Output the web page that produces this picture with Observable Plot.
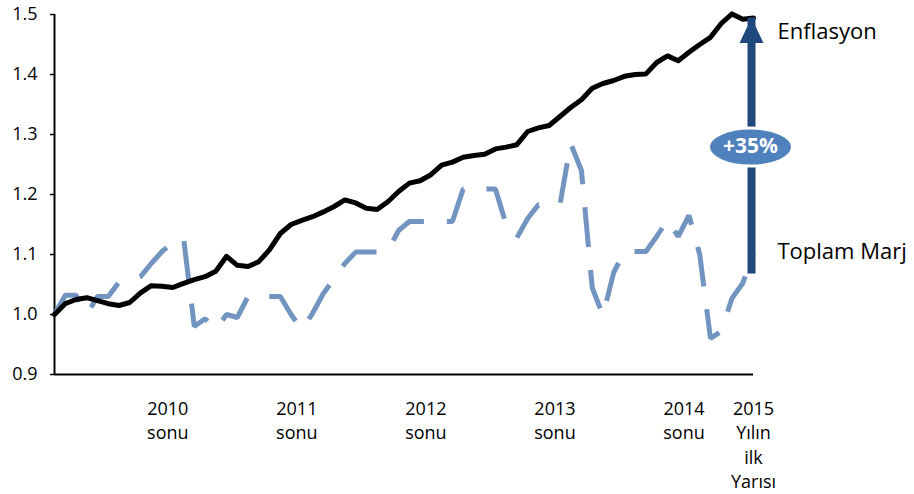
<!DOCTYPE html>
<html>
<head>
<meta charset="utf-8">
<script src="https://cdn.jsdelivr.net/npm/d3@7"></script>
<script src="https://cdn.jsdelivr.net/npm/@observablehq/plot@0.6"></script>
<style>
  html, body { margin: 0; padding: 0; background: #fff; }
  #chart { width: 914px; height: 494px; }
</style>
</head>
<body>
<div id="chart"></div>
<script>
// Monthly index values (Jan 2010 = 0 ... Jun 2015 = 65), 2010 start = 1.0
const inflation = [
  1.000, 1.018, 1.025, 1.028, 1.023, 1.018, 1.015, 1.020, 1.036, 1.048,
  1.047, 1.045, 1.052, 1.058, 1.063, 1.072, 1.097, 1.082, 1.080, 1.088,
  1.108, 1.135, 1.150, 1.157, 1.163, 1.171, 1.180, 1.191, 1.186, 1.177,
  1.175, 1.188, 1.205, 1.219, 1.223, 1.233, 1.249, 1.254, 1.262, 1.265,
  1.267, 1.276, 1.279, 1.283, 1.305, 1.311, 1.315, 1.330, 1.345, 1.358,
  1.377, 1.385, 1.390, 1.397, 1.400, 1.401, 1.420, 1.431, 1.423, 1.437,
  1.450, 1.462, 1.485, 1.501, 1.492, 1.494
];
const totalMargin = [
  1.000, 1.032, 1.032, 1.000, 1.030, 1.030, 1.054, 1.057, 1.063, 1.085,
  1.105, 1.120, 1.128, 0.980, 0.993, 0.975, 1.000, 0.995, 1.030, 1.030,
  1.030, 1.030, 1.000, 0.975, 1.002, 1.035, 1.060, 1.085, 1.104, 1.104,
  1.104, 1.106, 1.140, 1.155, 1.155, 1.155, 1.155, 1.155, 1.209, 1.209,
  1.209, 1.209, 1.150, 1.128, 1.160, 1.183, 1.183, 1.183, 1.285, 1.240,
  1.045, 0.998, 1.070, 1.105, 1.105, 1.105, 1.130, 1.158, 1.130, 1.165,
  1.100, 0.960, 0.972, 1.027, 1.052, 1.104
];
const seriesNames = ["Enflasyon", "Toplam Marj"];
const xTickIndex = [11, 23, 35, 47, 59];
const xTickLabels = ["2010\nsonu", "2011\nsonu", "2012\nsonu", "2013\nsonu", "2014\nsonu"];
const lastTickIndex = [65];
const lastTickLabel = ["2015\nYılın\nilk\nYarısı"];
const yTicks = [0.9, 1.0, 1.1, 1.2, 1.3, 1.4, 1.5];
const changeLabel = ["+35%"];

const infData = inflation.map((v, i) => ({i, v}));
const marData = totalMargin.map((v, i) => ({i, v}));
const lastI = inflation.length - 1;
const infLast = inflation[lastI];
const marLast = totalMargin[lastI];

const navy = "#1F497D";
const ellipseBlue = "#4F81BD";
const dashBlue = "#7194C0";
const font = "'Open Sans', 'Noto Sans', sans-serif";

const headSymbol = {
  draw(ctx) { ctx.moveTo(0, 0); ctx.lineTo(-12, 25); ctx.lineTo(12, 25); ctx.closePath(); }
};
const ellipseSymbol = {
  draw(ctx) {
    const rx = 42, ry = 19, k = 0.5523;
    ctx.moveTo(rx, 0);
    ctx.bezierCurveTo(rx, ry * k, rx * k, ry, 0, ry);
    ctx.bezierCurveTo(-rx * k, ry, -rx, ry * k, -rx, 0);
    ctx.bezierCurveTo(-rx, -ry * k, -rx * k, -ry, 0, -ry);
    ctx.bezierCurveTo(rx * k, -ry, rx, -ry * k, rx, 0);
    ctx.closePath();
  }
};

const chart = Plot.plot({
  width: 914,
  height: 494,
  marginLeft: 54,
  marginRight: 161,
  marginTop: 14,
  marginBottom: 120,
  style: {fontFamily: font, fontSize: "18px", color: "#000", background: "#fff"},
  x: {domain: [0, lastI], axis: null},
  y: {domain: [0.9, 1.5], axis: null},
  marks: [
    Plot.axisY({ticks: yTicks, tickFormat: d => d.toFixed(1), tickSize: 4, tickPadding: 13,
                fontSize: 18, label: null, stroke: "#000", strokeWidth: 1.5}),
    Plot.ruleX([0], {stroke: "#000", strokeWidth: 2}),
    Plot.ruleY([0.9], {stroke: "#000", strokeWidth: 2}),
    Plot.line(marData, {x: "i", y: "v", stroke: dashBlue, strokeWidth: 5,
                        strokeDasharray: "40,23", strokeLinejoin: "miter", strokeLinecap: "butt"}),
    Plot.line(infData, {x: "i", y: "v", stroke: "#000", strokeWidth: 5, strokeLinejoin: "round"}),
    Plot.ruleX([{x: lastI, y1: marLast, y2: infLast}],
               {x: "x", y1: "y1", y2: "y2", stroke: navy, strokeWidth: 8, insetTop: 22, dx: -2}),
    Plot.dot([{x: lastI, y: infLast}], {x: "x", y: "y", symbol: headSymbol, fill: navy, stroke: "none", dx: -2}),
    Plot.dot([{x: lastI, y: (infLast + marLast) / 2}],
             {x: "x", y: "y", symbol: ellipseSymbol, fill: ellipseBlue, stroke: "#fff", strokeWidth: 3, dx: -3, dy: 12}),
    Plot.text(changeLabel, {x: lastI, y: (infLast + marLast) / 2, text: d => d, fill: "#fff",
              fontWeight: "bold", fontSize: 21, fontFamily: font, dx: -3, dy: 11}),
    Plot.text([{x: lastI, y: infLast, t: seriesNames[0]}],
              {x: "x", y: "y", text: "t", textAnchor: "start", dx: 24, dy: 14, fontSize: 22, fontFamily: font, fill: "#000"}),
    Plot.text([{x: lastI, y: marLast, t: seriesNames[1]}],
              {x: "x", y: "y", text: "t", textAnchor: "start", dx: 24, dy: 0, fontSize: 22, fontFamily: font, fill: "#000"}),
    Plot.text(xTickLabels, {x: (d, k) => xTickIndex[k], text: d => d, frameAnchor: "bottom",
              lineAnchor: "top", lineHeight: 1.36, dy: 23, dx: -5, fontSize: 18, fontFamily: font, fill: "#000"}),
    Plot.text(lastTickLabel, {x: (d, k) => lastTickIndex[k], text: d => d, frameAnchor: "bottom",
              lineAnchor: "top", lineHeight: 1.36, dy: 23, dx: 0, fontSize: 18, fontFamily: font, fill: "#000"})
  ]
});
document.getElementById("chart").appendChild(chart);
</script>
</body>
</html>
